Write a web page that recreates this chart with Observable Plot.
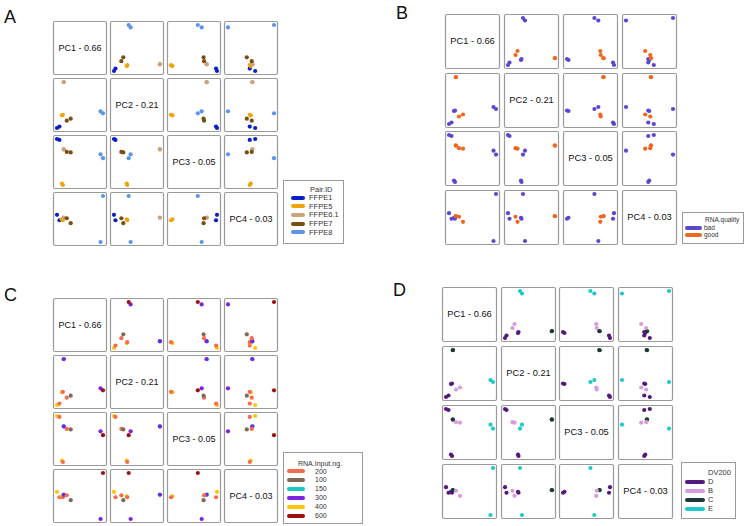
<!DOCTYPE html>
<html>
<head>
<meta charset="utf-8">
<script src="https://cdn.jsdelivr.net/npm/d3@7"></script>
<script src="https://cdn.jsdelivr.net/npm/@observablehq/plot@0.6"></script>
<style>
  html, body { margin: 0; padding: 0; background: #fff; }
  #root { position: relative; width: 750px; height: 526px; overflow: hidden; background: #fff;
          font-family: "Liberation Sans", Arial, Helvetica, sans-serif; }
  .plt { position: absolute; }
  .letter { position: absolute; font-size: 18px; color: #111; line-height: 1; }
  .legend { position: absolute; border: 1px solid #9a9a9a; box-sizing: border-box; background: #fff; }
  .lg-title, .lg-item { position: absolute; color: #333; line-height: 1; white-space: nowrap; }
  .sw { position: absolute; height: 4px; border-radius: 2px; }
</style>
</head>
<body>
<div id="root"></div>
<script>
// ---- data: PCA scores (scaled reading of each PC's range) ----
const sampleIds  = ["S1","S2","S3","S4","S5","S6","S7","S8","S9","S10"];
const pairId     = ["FFPE1","FFPE1","FFPE5","FFPE5","FFPE6.1","FFPE6.1","FFPE7","FFPE7","FFPE8","FFPE8"];
const rnaQuality = ["bad","bad","bad","bad","good","good","good","good","bad","bad"];
const rnaInput   = ["400","200","400","200","150","300","200","100","300","600"];
const dv200      = ["D","D","D","D","C","C","B","B","E","E"];
const pc1 = [0.03, 0.08, 0.13, 0.15, 0.165, 0.17, 0.23, 0.31, 0.92, 0.97];
const pc2 = [0.03, 0.06, 0.29, 0.30, 0.965, 0.97, 0.18, 0.22, 0.37, 0.33];
const pc3 = [0.98, 0.96, 0.05, 0.02, 0.77, 0.76, 0.71, 0.70, 0.66, 0.58];
const pc4 = [0.59, 0.48, 0.50, 0.48, 0.535, 0.53, 0.52, 0.42, 0.04, 0.97];
const pcLabels = ["PC1 - 0.66", "PC2 - 0.21", "PC3 - 0.05", "PC4 - 0.03"];

// legend categories / colours
const pairLevels    = ["FFPE1","FFPE5","FFPE6.1","FFPE7","FFPE8"];
const pairColors    = ["#0b20c4","#f0a30c","#cba27a","#7a4e10","#5b94ea"];
const qualLevels    = ["bad","good"];
const qualColors    = ["#5a47d3","#f0661e"];
const inputLevels   = ["200","100","150","300","400","600"];
const inputColors   = ["#f56b4c","#7d6b55","#14c8c8","#7c22e0","#ffc40c","#9e1010"];
const dvLevels      = ["D","B","C","E"];
const dvColors      = ["#57187c","#d99ade","#1e3a36","#20c9c9"];

const samples = sampleIds.map((id, k) => ({
  id, pair: pairId[k], quality: rnaQuality[k], input: rnaInput[k], dv: dv200[k],
  PC1: pc1[k], PC2: pc2[k], PC3: pc3[k], PC4: pc4[k]
}));
const pcs = ["PC1","PC2","PC3","PC4"];

// legend geometry: tc = title centre y, ic = first item centre y
const quadrants = [
  {letter:"A", lx:4, ly:8, x0:53, y0:21, sx:57, sy:57, size:53, fs:9, key:"pair",
   levels:pairLevels, colors:pairColors, title:"Pair.ID",
   legend:{x:283, y:180, w:61, h:64, fs:7.5, tx:310, tc:189.3, ix:309, sx:291, sw:14, ic:197.8, dy:8.6}},
  {letter:"B", lx:396, ly:4, x0:445, y0:14, sx:59, sy:58.7, size:54, fs:9.3, key:"quality",
   levels:qualLevels, colors:qualColors, title:"RNA.quality",
   legend:{x:682, y:212, w:62, h:32, fs:6.5, tx:705, tc:220.5, ix:704, sx:685, sw:17, ic:227.8, dy:7.4}},
  {letter:"C", lx:4, ly:286, x0:53, y0:298, sx:57, sy:57, size:53, fs:9, key:"input",
   levels:inputLevels, colors:inputColors, title:"RNA.Input.ng.",
   legend:{x:283, y:452, w:80, h:72, fs:7, tx:298, tc:463.3, ix:315, sx:287, sw:18, ic:471, dy:8.9}},
  {letter:"D", lx:393, ly:281, x0:442, y0:287, sx:58.7, sy:59, size:54, fs:9.3, key:"dv",
   levels:dvLevels, colors:dvColors, title:"DV200",
   legend:{x:681, y:462, w:55, h:57, fs:7.5, tx:708, tc:473, ix:708, sx:685, sw:20, ic:482, dy:9}}
];

const root = document.getElementById("root");
const font = "'Liberation Sans', Arial, Helvetica, sans-serif";

function addText(cls, txt, left, centerY, fs) {
  const el = document.createElement("div");
  el.className = cls; el.textContent = txt;
  el.style.fontSize = fs + "px";
  el.style.left = left + "px";
  el.style.top = (centerY - 0.49 * fs) + "px";
  root.appendChild(el);
}

for (const q of quadrants) {
  const L = document.createElement("div");
  L.className = "letter"; L.textContent = q.letter;
  L.style.left = q.lx + "px"; L.style.top = q.ly + "px";
  root.appendChild(L);

  for (let i = 0; i < 4; i++) {
    for (let j = 0; j < 4; j++) {
      let svg;
      if (i === j) {
        svg = Plot.plot({
          width: q.size, height: q.size, margin: 0,
          style: {background: "transparent", fontFamily: font, overflow: "visible"},
          marks: [
            Plot.frame({stroke: "#9a9a9a", strokeWidth: 1.2, rx: 1.5}),
            Plot.text([pcLabels[i]], {text: d => d, frameAnchor: "middle", fontSize: q.fs, fill: "#111"})
          ]
        });
      } else {
        svg = Plot.plot({
          width: q.size, height: q.size, margin: 0,
          style: {background: "transparent", fontFamily: font, overflow: "visible"},
          x: {axis: null, inset: 3.5},
          y: {axis: null, inset: 3.5},
          color: {domain: q.levels, range: q.colors},
          marks: [
            Plot.frame({stroke: "#9a9a9a", strokeWidth: 1.2, rx: 1.5}),
            Plot.dot(samples, {x: pcs[j], y: pcs[i], fill: q.key, r: 2.1, stroke: "none"})
          ]
        });
      }
      svg.classList.add("plt");
      svg.style.left = (q.x0 + j * q.sx) + "px";
      svg.style.top = (q.y0 + i * q.sy) + "px";
      root.appendChild(svg);
    }
  }

  // legend
  const g = q.legend;
  const box = document.createElement("div");
  box.className = "legend";
  Object.assign(box.style, {left: g.x + "px", top: g.y + "px", width: g.w + "px", height: g.h + "px"});
  root.appendChild(box);
  addText("lg-title", q.title, g.tx, g.tc, g.fs);
  q.levels.forEach((lv, k) => {
    const cy = g.ic + k * g.dy;
    const sw = document.createElement("div");
    sw.className = "sw";
    Object.assign(sw.style, {left: g.sx + "px", top: (cy - 2) + "px", width: g.sw + "px", background: q.colors[k]});
    root.appendChild(sw);
    addText("lg-item", lv, g.ix, cy, g.fs);
  });
}
</script>
</body>
</html>
